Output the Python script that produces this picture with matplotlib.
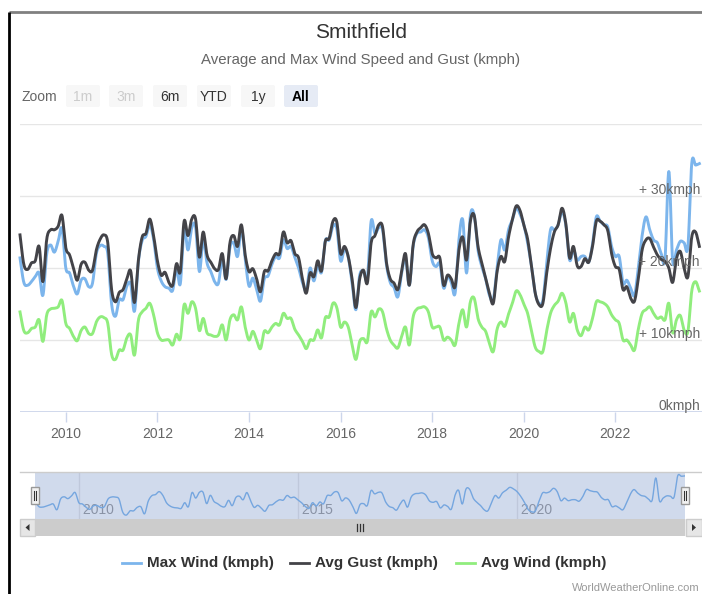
import numpy as np
import matplotlib
matplotlib.use('Agg')
import matplotlib.pyplot as plt
from matplotlib.patches import Rectangle, FancyBboxPatch, Polygon
from matplotlib.transforms import offset_copy

# ---------------- data (monthly, Jan 2009 .. Nov 2023) ----------------
start_year = 2009
max_wind = [
    21.4, 18.0, 17.6, 18.1, 18.8, 19.3, 16.2, 22.0, 23.2, 22.2, 23.7, 25.5,
    20.0, 19.3, 17.5, 16.4, 18.3, 18.5, 17.4, 17.9, 22.0, 23.1, 23.0, 22.0,
    15.0, 13.3, 15.6, 15.6, 17.5, 17.8, 14.0, 20.8, 23.8, 24.4, 26.0, 24.0,
    20.0, 18.2, 17.4, 17.2, 16.9, 20.0, 17.8, 25.5, 22.5, 25.6, 25.7, 19.5,
    24.0, 20.7, 19.5, 18.1, 17.9, 21.3, 18.4, 22.8, 23.5, 21.6, 25.5, 21.2,
    17.5, 18.6, 17.0, 15.4, 18.5, 18.9, 20.5, 21.6, 21.4, 23.9, 22.7, 23.0,
    21.5, 20.0, 18.0, 16.9, 20.0, 18.2, 20.4, 19.4, 23.8, 23.9, 25.8, 25.5,
    21.0, 22.6, 21.5, 18.0, 14.2, 19.0, 19.5, 18.5, 26.5, 24.8, 25.6, 25.3,
    20.5, 18.0, 17.3, 16.0, 19.3, 21.4, 17.6, 23.0, 24.8, 25.0, 25.3, 24.2,
    21.0, 20.2, 20.6, 17.2, 18.8, 18.0, 16.5, 23.9, 26.7, 19.3, 27.3, 27.3,
    22.5, 20.2, 18.5, 16.2, 15.6, 20.0, 23.9, 22.5, 25.3, 26.7, 28.3, 27.5,
    26.0, 23.5, 20.3, 16.5, 15.1, 15.5, 20.7, 25.3, 25.3, 26.0, 27.8, 26.0,
    21.1, 22.5, 21.1, 21.6, 21.6, 20.8, 23.3, 27.1, 26.5, 26.0, 25.7, 23.0,
    21.6, 21.6, 17.9, 18.3, 17.2, 16.2, 20.0, 24.5, 27.1, 25.3, 23.9, 23.5,
    22.0, 21.3, 33.4, 21.0, 22.5, 23.7, 23.5, 23.0, 34.5, 34.3, 34.5,
]
avg_gust = [
    24.6, 20.5, 19.8, 20.7, 21.0, 23.0, 18.1, 24.0, 25.3, 25.3, 25.8, 27.3,
    22.8, 21.8, 20.0, 18.3, 20.5, 20.8, 19.7, 19.7, 22.5, 24.0, 24.6, 23.5,
    17.0, 15.3, 16.6, 17.0, 18.5, 19.6, 15.2, 21.0, 24.3, 24.8, 26.8, 24.5,
    21.0, 19.0, 19.4, 18.0, 17.6, 20.6, 19.5, 26.5, 24.5, 26.8, 26.8, 21.5,
    25.0, 21.8, 20.8, 19.9, 19.8, 22.0, 18.5, 23.5, 24.5, 23.0, 26.0, 21.8,
    19.5, 19.9, 18.5, 16.7, 19.5, 19.6, 21.0, 22.0, 22.0, 25.0, 23.5, 23.8,
    22.0, 21.4, 18.5, 16.5, 19.3, 18.8, 21.0, 19.6, 23.7, 24.1, 26.5, 26.4,
    22.0, 23.0, 21.6, 18.5, 14.5, 18.5, 19.7, 17.9, 23.5, 24.5, 26.0, 25.7,
    20.8, 18.5, 17.9, 17.0, 19.5, 22.0, 17.6, 23.2, 25.0, 25.6, 26.0, 24.8,
    22.0, 21.4, 21.4, 17.6, 19.0, 18.5, 17.4, 22.5, 24.3, 21.1, 26.5, 27.3,
    23.0, 20.7, 18.6, 16.5, 15.1, 19.5, 21.6, 20.9, 24.3, 26.7, 28.6, 28.0,
    26.0, 24.0, 20.3, 16.5, 14.9, 15.1, 19.3, 22.7, 25.0, 26.0, 28.3, 26.2,
    21.4, 23.0, 20.3, 20.2, 21.3, 20.8, 23.0, 26.5, 26.5, 26.0, 25.2, 22.0,
    20.2, 19.8, 17.0, 17.4, 15.8, 15.4, 18.5, 22.5, 23.9, 24.1, 22.9, 21.8,
    21.2, 20.9, 20.0, 18.0, 21.3, 22.3, 20.0, 18.8, 24.3, 25.0, 23.0,
]
avg_wind = [
    13.9, 11.3, 11.0, 11.6, 11.8, 12.8, 9.8, 13.5, 14.3, 14.4, 14.6, 15.5,
    12.3, 11.6, 10.5, 9.9, 11.3, 11.8, 10.9, 10.9, 12.5, 13.2, 13.1, 12.3,
    8.0, 7.3, 8.6, 8.6, 10.3, 10.7, 7.9, 12.7, 13.9, 14.4, 15.1, 13.5,
    11.0, 10.0, 10.0, 10.0, 9.3, 10.8, 10.2, 14.9, 13.7, 15.3, 14.4, 11.3,
    13.0, 11.0, 10.7, 10.5, 10.7, 12.1, 10.0, 12.8, 13.5, 12.8, 14.6, 11.8,
    10.0, 11.2, 10.0, 8.8, 11.2, 11.0, 11.8, 12.3, 12.1, 13.7, 13.0, 13.0,
    11.5, 10.7, 9.8, 8.8, 10.0, 10.0, 11.4, 10.3, 13.1, 13.2, 15.1, 14.5,
    11.8, 12.5, 11.8, 9.4, 7.3, 9.8, 10.2, 9.8, 13.9, 13.2, 14.3, 13.9,
    11.6, 10.0, 9.3, 8.9, 10.5, 11.8, 9.3, 13.2, 14.3, 14.5, 14.6, 13.9,
    11.8, 11.8, 11.8, 10.0, 10.4, 10.0, 9.3, 12.3, 14.2, 11.8, 15.3, 15.8,
    13.0, 11.8, 11.2, 9.5, 8.4, 11.5, 12.5, 11.9, 13.6, 15.1, 16.8, 16.3,
    15.0, 13.7, 11.3, 9.0, 8.4, 8.4, 11.3, 13.7, 14.8, 15.4, 16.5, 15.2,
    12.5, 13.7, 11.4, 10.6, 11.8, 11.4, 13.0, 15.3, 15.3, 15.1, 14.6, 13.5,
    12.8, 12.3, 10.0, 10.0, 9.3, 8.6, 11.5, 13.7, 14.2, 14.6, 13.7, 13.0,
    13.2, 12.8, 15.1, 11.0, 12.8, 13.4, 11.4, 11.2, 16.8, 18.1, 16.8,
]
series_names = ['Max Wind (kmph)', 'Avg Gust (kmph)', 'Avg Wind (kmph)']
series_colors = ['#7cb5ec', '#434348', '#90ed7d']
x_ticks = [2010, 2012, 2014, 2016, 2018, 2020, 2022]
nav_ticks = [2010, 2015, 2020]
y_grid = [0, 10, 20, 30, 40]
y_labels = {30: '+ 30kmph', 20: '+ 20kmph', 10: '+ 10kmph', 0: '0kmph'}
zoom_buttons = ['1m', '3m', '6m', 'YTD', '1y', 'All']

# ---------------- helpers ----------------
W, H = 702, 594
plt.rcParams['font.family'] = ['Liberation Sans', 'DejaVu Sans']


def catmull(x, y, n=10):
    x = np.asarray(x, float)
    y = np.asarray(y, float)
    xp = np.concatenate([[2 * x[0] - x[1]], x, [2 * x[-1] - x[-2]]])
    yp = np.concatenate([[2 * y[0] - y[1]], y, [2 * y[-1] - y[-2]]])
    t = np.linspace(0, 1, n, endpoint=False)[None, :]
    out = []
    for p in (xp, yp):
        P0, P1, P2, P3 = p[:-3, None], p[1:-2, None], p[2:-1, None], p[3:, None]
        c = 0.5 * (2 * P1 + (-P0 + P2) * t + (2 * P0 - 5 * P1 + 4 * P2 - P3) * t ** 2
                   + (-P0 + 3 * P1 - 3 * P2 + P3) * t ** 3)
        out.append(np.concatenate([c.ravel(), [p[-2]]]))
    return out


n = len(max_wind)
xs = start_year + np.arange(n) / 12.0

fig = plt.figure(figsize=(W / 100, H / 100), dpi=100)
fig.patch.set_facecolor('white')

# background / decoration layer in pixel coordinates
bg = fig.add_axes([0, 0, 1, 1], zorder=0)
bg.set_xlim(0, W)
bg.set_ylim(H, 0)
bg.axis('off')

bg.plot([9, W], [12, 12], color='#808080', lw=2, solid_capstyle='butt')
bg.plot([9, 9], [12, H], color='black', lw=2, solid_capstyle='butt')

# titles
bg.text(361, 32, 'Smithfield', ha='center', va='center', fontsize=15, color='#333333')
bg.text(361, 60, 'Average and Max Wind Speed and Gust (kmph)', ha='center', va='center',
        fontsize=10.8, color='#666666')

# range selector
bg.text(22, 97, 'Zoom', ha='left', va='center', fontsize=10, color='#666666')
btn_x = [65, 108, 152, 196, 240, 283]
for lbl, bx in zip(zoom_buttons, btn_x):
    sel = lbl == 'All'
    dis = lbl in ('1m', '3m')
    fc = '#e6ebf5' if sel else '#f7f7f7'
    bg.add_patch(FancyBboxPatch((bx + 1, 85), 34, 22, boxstyle='round,pad=0,rounding_size=2',
                                fc=fc, ec='none'))
    bg.text(bx + 18, 97, lbl, ha='center', va='center', fontsize=10,
            color='#cccccc' if dis else ('#000000' if sel else '#333333'),
            fontweight='bold' if sel else 'normal')

# ---------------- main plot ----------------
ax = fig.add_axes([20 / W, 1 - 412 / H, 682 / W, 288 / H], zorder=2)
ax.patch.set_alpha(0)
ax.set_xlim(start_year, start_year + 682 / 45.8)
ax.set_ylim(0, 40)
for s in ax.spines.values():
    s.set_visible(False)
ax.set_yticks(y_grid)
ax.set_yticklabels([])
ax.tick_params(axis='y', length=0)
ax.yaxis.grid(True, color='#e6e6e6', lw=1)
ax.set_axisbelow(True)
ax.axhline(0, color='#ccd6eb', lw=2, zorder=1)
ax.set_xticks(x_ticks)
ax.set_xticklabels([str(t) for t in x_ticks])
ax.tick_params(axis='x', length=7.5, width=1, color='#ccd6eb', labelsize=10,
               labelcolor='#666666', pad=3)

for vals, col in zip([max_wind, avg_gust, avg_wind], series_colors):
    sx, sy = catmull(xs, vals)
    ax.plot(sx, sy, color=col, lw=2.1, solid_joinstyle='round', zorder=3, clip_on=False)

tr = offset_copy(ax.get_yaxis_transform(), fig=fig, x=0, y=-1, units='points')
for v, lbl in y_labels.items():
    ax.text(0.997, v, lbl, transform=tr, ha='right', va='bottom', fontsize=10,
            color='#666666', zorder=4)

# ---------------- navigator ----------------
nav_l, nav_r, nav_t, nav_b = 35, 685, 472, 519
nav = fig.add_axes([nav_l / W, 1 - nav_b / H, (nav_r - nav_l) / W, (nav_b - nav_t) / H], zorder=2)
nav.patch.set_alpha(0)
nav.set_xlim(xs[0], xs[-1])
nav.set_ylim(11.2, 36.6)
nav.axis('off')
for t in nav_ticks:
    nav.axvline(t, color='#e6e6e6', lw=1, zorder=1)
    nav.text(t, 0.2, ' ' + str(t), transform=nav.get_xaxis_transform(), ha='left', va='center',
             fontsize=10, color='#999999', zorder=2)
sx, sy = catmull(xs, max_wind)
nav.plot(sx, sy, color=series_colors[0], lw=1, zorder=3)
nav.axvspan(xs[0], xs[-1], color=(102 / 255, 133 / 255, 194 / 255), alpha=0.3, lw=0, zorder=4)

top = fig.add_axes([0, 0, 1, 1], zorder=5)
top.set_xlim(0, W)
top.set_ylim(H, 0)
top.axis('off')
top.plot([20, W], [nav_t, nav_t], color='#cccccc', lw=1)
for hx in (nav_l, nav_r):
    top.add_patch(Rectangle((hx - 4, 487), 8, 17, fc='#f2f2f2', ec='#999999', lw=1))
    top.plot([hx - 1.2, hx - 1.2], [491, 500], color='#333333', lw=0.8)
    top.plot([hx + 1.2, hx + 1.2], [491, 500], color='#333333', lw=0.8)

# scrollbar
top.add_patch(Rectangle((20, 519), W - 20, 17, fc='#f2f2f2', ec='none'))
top.add_patch(Rectangle((nav_l, 519), nav_r - nav_l, 17, fc='#cccccc', ec='none'))
top.add_patch(Rectangle((20, 519), 15, 17, fc='#e6e6e6', ec='#cccccc', lw=1))
top.add_patch(Rectangle((nav_r + 1, 519), 16, 17, fc='#e6e6e6', ec='#cccccc', lw=1))
top.add_patch(Polygon([[29.5, 524], [29.5, 531], [25.5, 527.5]], closed=True, fc='#333333', ec='none'))
top.add_patch(Polygon([[692, 524], [692, 531], [696, 527.5]], closed=True, fc='#333333', ec='none'))
for gx in (357, 360, 363):
    top.plot([gx, gx], [524, 531], color='#333333', lw=0.9)

# legend
leg_x = [122, 290, 456]
for lx, name, col in zip(leg_x, series_names, series_colors):
    top.plot([lx, lx + 19], [563, 563], color=col, lw=2)
    top.text(lx + 25, 563, name, ha='left', va='center', fontsize=11, fontweight='bold',
             color='#333333')

top.text(700, 588, 'WorldWeatherOnline.com', ha='right', va='center', fontsize=8, color='#999999')

fig.savefig('out.png', dpi=100, facecolor='white')
